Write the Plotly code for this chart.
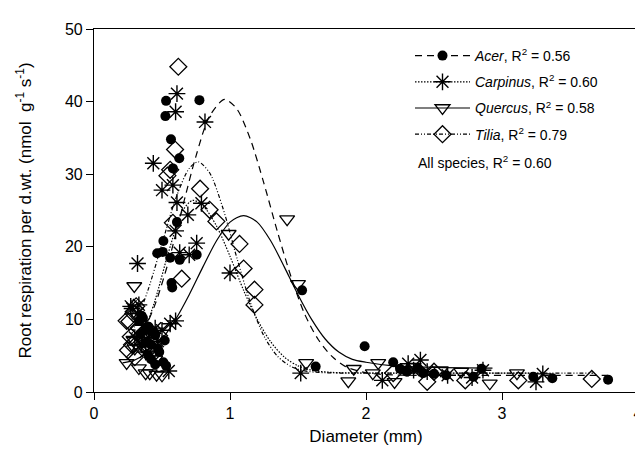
import plotly.graph_objects as go

# ---------------- data ----------------
acer_x = [0.53, 0.775, 0.525, 0.566, 0.627, 0.58, 0.61, 0.51, 0.465, 0.505, 0.56, 0.63, 0.755,
          0.57, 0.575, 0.52, 0.51, 0.53, 0.35, 0.38, 0.42, 0.45, 0.40, 0.33,
          0.36, 0.40, 0.44, 0.47, 0.38, 0.42, 0.45, 0.48, 0.34,
          1.53, 1.99, 1.63, 2.20, 2.25, 2.30, 2.38, 2.42, 2.50, 2.59, 2.79, 2.85, 3.23, 3.37, 3.78]
acer_y = [40.1, 40.2, 38.0, 34.8, 32.2, 30.8, 23.4, 20.8, 19.1, 19.3, 18.5, 18.2, 18.9,
          15.0, 14.4, 7.1, 4.1, 3.6, 10.5, 8.5, 6.5, 7.8, 5.0, 9.8,
          10.2, 9.0, 8.2, 6.0, 6.8, 4.5, 3.8, 5.5, 8.0,
          14.0, 6.3, 3.5, 4.1, 3.2, 2.8, 3.3, 2.6, 2.5, 2.3, 2.1, 3.2, 2.1, 1.9, 1.7]

carp_x = [0.61, 0.60, 0.816, 0.436, 0.58, 0.50, 0.61, 0.79, 0.69, 0.60, 0.755, 0.63, 0.70,
          0.32, 1.0, 0.56, 0.55, 0.28, 0.32, 0.36, 0.42, 0.47, 0.30, 0.38,
          0.27, 0.33, 0.45, 0.50, 0.35, 0.40, 0.60,
          1.52, 2.12, 2.31, 2.40, 2.35, 2.45, 2.60, 2.78, 2.86, 3.25, 3.30]
carp_y = [41.1, 38.6, 37.2, 31.5, 28.5, 27.8, 26.1, 26.0, 24.4, 22.2, 20.5, 19.2, 18.9,
          17.7, 16.4, 9.4, 2.9, 11.5, 10.8, 9.2, 8.0, 7.0, 7.5, 5.5,
          11.8, 12.0, 8.8, 8.5, 6.5, 7.5, 9.8,
          2.6, 1.6, 3.9, 4.4, 3.0, 2.8, 2.3, 2.0, 3.0, 1.4, 2.5]

quer_x = [0.99, 1.42, 1.50, 0.296, 1.56, 1.91, 1.87, 2.05, 2.09, 2.21, 2.70, 2.91, 3.11,
          0.33, 0.41, 0.50, 0.24, 0.30, 0.45, 0.36, 0.38, 0.46, 0.29, 0.42,
          2.35, 2.55]
quer_y = [21.8, 23.8, 14.9, 14.6, 4.0, 3.2, 1.5, 2.6, 4.0, 1.4, 2.8, 1.2, 2.6,
          3.3, 2.6, 2.3, 4.0, 6.0, 4.5, 7.0, 2.6, 2.4, 7.2, 5.2,
          3.5, 3.0]

tili_x = [0.62, 0.596, 0.56, 0.54, 0.78, 0.85, 0.90, 0.58, 1.07, 1.10, 1.18, 1.18, 0.645,
          0.26, 0.27, 0.25, 0.29, 0.33, 0.31, 0.37, 0.43,
          0.24, 0.28, 0.35, 0.30, 0.40,
          2.45, 2.73, 3.12, 3.66, 2.20, 2.50]
tili_y = [44.8, 33.4, 30.6, 29.8, 28.0, 25.1, 23.5, 23.3, 20.4, 17.0, 14.1, 12.0, 15.6,
          9.7, 7.6, 5.75, 10.8, 8.8, 11.8, 6.5, 5.2,
          9.8, 6.5, 7.8, 4.8, 5.8,
          1.4, 1.6, 1.6, 1.8, 2.6, 2.8]

# fitted curves
acer_fit_x = [0.28, 0.35, 0.45, 0.55, 0.65, 0.75, 0.85, 0.96, 1.05, 1.15, 1.25, 1.35, 1.45,
              1.55, 1.65, 1.75, 1.85, 2.0, 2.2, 2.6, 3.2, 3.78]
acer_fit_y = [5.7, 7.8, 12.1, 18.1, 25.4, 32.5, 38.0, 40.3, 39.0, 34.8, 28.7, 22.0, 15.8,
              10.7, 7.2, 4.9, 3.5, 2.65, 2.35, 2.3, 2.3, 2.3]

carp_fit_x = [0.28, 0.35, 0.45, 0.55, 0.65, 0.725, 0.8, 0.9, 1.0, 1.1, 1.2, 1.3, 1.4,
              1.5, 1.6, 1.75, 2.2, 3.3]
carp_fit_y = [5.1, 7.4, 12.7, 19.4, 24.9, 26.4, 25.7, 22.9, 18.7, 14.0, 10.0, 6.9, 4.8,
              3.6, 3.0, 2.7, 2.6, 2.6]

quer_fit_x = [0.21, 0.3, 0.4, 0.5, 0.6, 0.7, 0.8, 0.9, 1.0, 1.1, 1.2, 1.3, 1.4, 1.5,
              1.6, 1.7, 1.8, 1.9, 2.0, 2.2, 2.5, 2.93]
quer_fit_y = [4.0, 4.4, 5.5, 7.3, 10.0, 13.4, 17.2, 20.8, 23.4, 24.3, 23.4, 20.8, 17.2, 13.4,
              10.0, 7.3, 5.5, 4.5, 4.1, 3.6, 3.4, 3.3]

tili_fit_x = [0.24, 0.3, 0.4, 0.5, 0.6, 0.7, 0.767, 0.85, 0.95, 1.05, 1.15, 1.25, 1.35,
              1.45, 1.55, 1.7, 2.2, 3.0, 3.67]
tili_fit_y = [6.2, 9.1, 14.2, 20.4, 26.6, 30.8, 31.7, 30.2, 25.2, 18.5, 12.3, 7.7, 4.9,
              3.5, 2.9, 2.65, 2.6, 2.6, 2.6]

x_ticks = [0, 1, 2, 3, 4]
y_ticks = [0, 10, 20, 30, 40, 50]

names = ["<i>Acer</i>, R<sup>2</sup> = 0.56",
         "<i>Carpinus</i>, R<sup>2</sup> = 0.60",
         "<i>Quercus</i>, R<sup>2</sup> = 0.58",
         "<i>Tilia</i>, R<sup>2</sup> = 0.79"]
all_label = "All species, R<sup>2</sup> = 0.60"

# ---------------- styles ----------------
FONT = "Arial, Liberation Sans, sans-serif"
styles = [
    dict(symbol="circle", size=10, lw=0, dash="7px,5px"),
    dict(symbol="asterisk-open", size=14, lw=1.4, dash="1.5px,1.5px"),
    dict(symbol="triangle-down-open", size=13, lw=1.3, dash="solid"),
    dict(symbol="diamond-open", size=13, lw=1.3, dash="4px,2px,1px,2px,1px,2px"),
]

pts = [(acer_x, acer_y), (carp_x, carp_y), (quer_x, quer_y), (tili_x, tili_y)]
fits = [(acer_fit_x, acer_fit_y), (carp_fit_x, carp_fit_y), (quer_fit_x, quer_fit_y), (tili_fit_x, tili_fit_y)]

fig = go.Figure()
for (fx, fy), st in zip(fits, styles):
    fig.add_trace(go.Scatter(x=fx, y=fy, mode="lines",
                             line=dict(color="black", width=1.2, dash=st["dash"], shape="spline", smoothing=0.8),
                             showlegend=False, hoverinfo="skip"))
for (px, py), st in zip(pts, styles):
    fig.add_trace(go.Scatter(x=px, y=py, mode="markers",
                             marker=dict(symbol=st["symbol"], size=st["size"], color="black",
                                         line=dict(width=st["lw"], color="black")),
                             showlegend=False))
for i, (nm, st) in enumerate(zip(names, styles)):
    fig.add_trace(go.Scatter(x=[None], y=[None], mode="lines+markers", name=nm, legendgroup=str(i),
                             line=dict(color="black", width=1.2, dash=st["dash"]),
                             marker=dict(symbol=st["symbol"], size=st["size"], color="black",
                                         line=dict(width=st["lw"], color="black"))))

fig.add_annotation(x=(416 - 94) / 544, y=(392 - 162) / 363, xref="paper", yref="paper",
                   text=all_label, showarrow=False, xanchor="left", yanchor="middle",
                   font=dict(family=FONT, size=14, color="black"))

axis_common = dict(showline=True, linecolor="black", linewidth=1.2, mirror=True, ticks="outside",
                   ticklen=7, tickwidth=1.2, tickcolor="black", showgrid=False, zeroline=False,
                   automargin=False, tickfont=dict(family=FONT, size=16, color="black"))

fig.update_layout(
    width=635, height=460,
    margin=dict(l=86, r=5, t=21, b=76),
    plot_bgcolor="white", paper_bgcolor="white",
    font=dict(family=FONT, color="black"),
    xaxis=dict(range=[0, 4], tickvals=x_ticks, ticktext=[str(v) for v in x_ticks],
               title=dict(text="Diameter (mm)", font=dict(family=FONT, size=17), standoff=8), **axis_common),
    yaxis=dict(range=[0, 50], tickvals=y_ticks, ticktext=[str(v) for v in y_ticks],
               title=dict(text="Root respiration per d.wt. (nmol  g<sup>-1</sup> s<sup>-1</sup>)",
                          font=dict(family=FONT, size=17), standoff=28),
               **axis_common),
    legend=dict(x=(410 - 94) / 544, y=(392 - 40) / 363, xanchor="left", yanchor="top",
                bgcolor="rgba(0,0,0,0)", borderwidth=0, font=dict(family=FONT, size=14, color="black"),
                traceorder="grouped", tracegroupgap=5, itemwidth=55),
    showlegend=True,
)

fig.write_html("out.html")
